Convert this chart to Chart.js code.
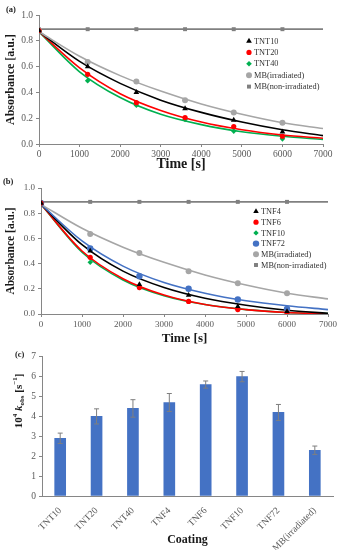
<!DOCTYPE html>
<html>
<head>
<meta charset="utf-8">
<script src="https://cdn.jsdelivr.net/npm/chart.js@4/dist/chart.umd.min.js"></script>
<style>
body { margin: 0; background: #fff; width: 342px; height: 550px; position: relative; overflow: hidden; font-family: 'Liberation Serif', serif; }
canvas { position: absolute; left: 0; }
.tag { position: absolute; font-weight: bold; font-size: 8.5px; color: #222; }
</style>
</head>
<body>
<canvas id="chartA" width="342" height="175" style="top:0"></canvas>
<canvas id="chartB" width="342" height="170" style="top:178px"></canvas>
<canvas id="chartC" width="342" height="202" style="top:348px"></canvas>
<div class="tag" style="left:6px;top:4px">(a)</div>
<div class="tag" style="left:3px;top:176px">(b)</div>
<div class="tag" style="left:15px;top:349px">(c)</div>
<script>
// sampling times (s)
const times = [0, 1200, 2400, 3600, 4800, 6000];
const fitTimes = [0, 1000, 2000, 3000, 4000, 5000, 6000, 7000];
const lineEnds = [0, 7000];

// panel (a) measured absorbance
const tnt10 = [0.88, 0.60, 0.40, 0.275, 0.185, 0.095];
const tnt20 = [0.88, 0.54, 0.32, 0.205, 0.135, 0.06];
const tnt40 = [0.88, 0.49, 0.30, 0.19, 0.10, 0.04];
const mbIrr = [0.88, 0.635, 0.485, 0.34, 0.245, 0.165];
const mbNon = [0.89, 0.89, 0.89, 0.89, 0.89, 0.89];
const mbNonLine = [0.89, 0.89];

// panel (a) fitted curves
const fitTnt10 = [0.87, 0.64, 0.47, 0.34, 0.245, 0.17, 0.11, 0.065];
const fitTnt20 = [0.87, 0.59, 0.39, 0.26, 0.17, 0.11, 0.07, 0.045];
const fitTnt40 = [0.87, 0.56, 0.36, 0.23, 0.15, 0.095, 0.06, 0.035];
const fitMbIrr = [0.87, 0.68, 0.53, 0.41, 0.31, 0.23, 0.165, 0.12];

// panel (b) measured absorbance
const tnf4 = [0.88, 0.50, 0.235, 0.15, 0.06, 0.02];
const tnf6 = [0.88, 0.45, 0.21, 0.10, 0.035, 0.01];
const tnf10 = [0.88, 0.41, 0.21, 0.10, 0.035, 0.01];
const tnf72 = [0.88, 0.52, 0.30, 0.20, 0.115, 0.04];

// panel (b) fitted curves
const fitTnf4 = [0.87, 0.55, 0.34, 0.21, 0.125, 0.07, 0.03, 0.005];
const fitTnf6 = [0.87, 0.50, 0.28, 0.15, 0.075, 0.035, 0.012, 0.0];
const fitTnf10 = [0.87, 0.49, 0.27, 0.145, 0.075, 0.035, 0.012, 0.003];
const fitTnf72 = [0.87, 0.58, 0.38, 0.25, 0.165, 0.105, 0.065, 0.035];

// panel (c) rate constants
const coatings = ['TNT10', 'TNT20', 'TNT40', 'TNF4', 'TNF6', 'TNF10', 'TNF72', 'MB(irradiated)'];
const kObs = [2.9, 4.0, 4.4, 4.7, 5.6, 6.0, 4.2, 2.3];
const kErr = [0.26, 0.38, 0.44, 0.45, 0.18, 0.26, 0.4, 0.21];

Chart.defaults.font.family = "'Liberation Serif', serif";
Chart.defaults.color = '#595959';

const pts = (xs, ys) => xs.map((x, i) => ({ x: x, y: ys[i] }));

function fit(xs, ys, color, w) {
    return { data: pts(xs, ys), showLine: true, pointRadius: 0, borderColor: color,
             borderWidth: w || 1.6, cubicInterpolationMode: 'monotone', order: 2 };
}
function marks(ys, label, color, style, r) {
    return { data: pts(times, ys), legendText: label, pointStyle: style, pointRadius: r,
             backgroundColor: color, borderColor: color, borderWidth: 0, order: 1 };
}

// legend drawn inside the plot
const inLegend = {
    id: 'inLegend',
    afterDraw(chart, args, opts) {
        const ctx = chart.ctx;
        let y = opts.y;
        ctx.save();
        ctx.font = opts.size + "px 'Liberation Serif', serif";
        ctx.textBaseline = 'middle';
        chart.data.datasets.forEach(ds => {
            if (!ds.legendText) return;
            ctx.fillStyle = ds.backgroundColor;
            ctx.strokeStyle = ds.borderColor;
            Chart.helpers.drawPoint(ctx, { pointStyle: ds.pointStyle, radius: ds.pointRadius, borderWidth: 0, rotation: 0 }, opts.x, y);
            ctx.fillStyle = '#333';
            ctx.fillText(ds.legendText, opts.x + 5, y + 0.5);
            y += opts.gap;
        });
        ctx.restore();
    }
};

function lineScales(xH, yW, fs, xt, yt) {
    const axisGrid = { display: true, drawOnChartArea: false, drawTicks: true, tickLength: 3, color: '#868686' };
    return {
        x: { type: 'linear', min: 0, max: 7000,
             ticks: { stepSize: 1000, font: { size: fs }, padding: 2, maxRotation: 0, callback: v => String(v) },
             grid: axisGrid, border: { color: '#868686', width: 1 },
             title: { display: true, text: 'Time [s]', color: '#1a1a1a', font: { size: xt, weight: 'bold' }, padding: { top: 0, bottom: 2 } },
             afterFit: s => { s.height = xH; } },
        y: { min: 0, max: 1,
             ticks: { stepSize: 0.2, font: { size: fs }, padding: 3, callback: v => v.toFixed(1) },
             grid: axisGrid, border: { color: '#868686', width: 1 },
             title: { display: true, text: 'Absorbance [a.u.]', color: '#1a1a1a', font: { size: yt, weight: 'bold' }, padding: { top: 4, bottom: 0 } },
             afterFit: s => { s.width = yW; } }
    };
}

new Chart(document.getElementById('chartA'), {
    type: 'scatter',
    data: { datasets: [
        fit(fitTimes, fitMbIrr, '#a6a6a6'),
        fit(fitTimes, fitTnt10, '#000000'),
        fit(fitTimes, fitTnt20, '#ff0000'),
        fit(fitTimes, fitTnt40, '#00b050'),
        fit(lineEnds, mbNonLine, '#808080', 1.8),
        marks(tnt10, 'TNT10', '#000000', 'triangle', 3.3),
        marks(tnt20, 'TNT20', '#ff0000', 'circle', 2.6),
        marks(tnt40, 'TNT40', '#00b050', 'rectRot', 2.8),
        marks(mbIrr, 'MB(irradiated)', '#a6a6a6', 'circle', 3),
        marks(mbNon, 'MB(non-irradiated)', '#808080', 'rect', 2.8)
    ] },
    options: {
        responsive: false, animation: false, devicePixelRatio: 1,
        layout: { padding: { top: 15, right: 19, left: 0, bottom: 0 } },
        plugins: { legend: { display: false }, tooltip: { enabled: false },
                   inLegend: { x: 249, y: 41, gap: 11.4, size: 8.3 } },
        scales: lineScales(31, 39, 9.5, 14, 12)
    },
    plugins: [inLegend]
});

new Chart(document.getElementById('chartB'), {
    type: 'scatter',
    data: { datasets: [
        fit(fitTimes, fitMbIrr, '#a6a6a6'),
        fit(fitTimes, fitTnf72, '#4472c4'),
        fit(fitTimes, fitTnf4, '#000000'),
        fit(fitTimes, fitTnf6, '#ff0000'),
        fit(fitTimes, fitTnf10, '#00b050'),
        fit(lineEnds, mbNonLine, '#808080', 1.8),
        marks(tnf4, 'TNF4', '#000000', 'triangle', 3.2),
        marks(tnf6, 'TNF6', '#ff0000', 'circle', 2.6),
        marks(tnf10, 'TNF10', '#00b050', 'rectRot', 2.7),
        marks(tnf72, 'TNF72', '#4472c4', 'circle', 3.2),
        marks(mbIrr, 'MB(irradiated)', '#a6a6a6', 'circle', 3),
        marks(mbNon, 'MB(non-irradiated)', '#808080', 'rect', 2.8)
    ] },
    options: {
        responsive: false, animation: false, devicePixelRatio: 1,
        layout: { padding: { top: 10, right: 14, left: 0, bottom: 0 } },
        plugins: { legend: { display: false }, tooltip: { enabled: false },
                   inLegend: { x: 256, y: 33.5, gap: 10.7, size: 8.3 } },
        scales: lineScales(34, 41, 9, 13, 11.5)
    },
    plugins: [inLegend]
});

// error bars on the rate-constant bars
const errorBars = {
    id: 'errorBars',
    afterDatasetsDraw(chart) {
        const ctx = chart.ctx, ys = chart.scales.y;
        const meta = chart.getDatasetMeta(0);
        ctx.save();
        ctx.strokeStyle = '#7f7f7f';
        ctx.lineWidth = 1;
        meta.data.forEach((bar, i) => {
            const top = ys.getPixelForValue(kObs[i] + kErr[i]);
            const bot = ys.getPixelForValue(kObs[i] - kErr[i]);
            ctx.beginPath();
            ctx.moveTo(bar.x, top); ctx.lineTo(bar.x, bot);
            ctx.moveTo(bar.x - 2.5, top); ctx.lineTo(bar.x + 2.5, top);
            ctx.moveTo(bar.x - 2.5, bot); ctx.lineTo(bar.x + 2.5, bot);
            ctx.stroke();
        });
        ctx.restore();
    }
};

// y title with superscript / subscript
const kTitle = {
    id: 'kTitle',
    afterDraw(chart) {
        const ctx = chart.ctx;
        const parts = [
            { t: '10', s: 11, dy: 0, st: 'bold' },
            { t: '4', s: 7, dy: -4, st: 'bold' },
            { t: ' k', s: 11, dy: 0, st: 'italic bold' },
            { t: 'obs', s: 7, dy: 3, st: 'bold' },
            { t: ' [s', s: 11, dy: 0, st: 'bold' },
            { t: '\u22121', s: 7, dy: -4, st: 'bold' },
            { t: ']', s: 11, dy: 0, st: 'bold' }
        ];
        ctx.save();
        let total = 0;
        parts.forEach(p => { ctx.font = p.st + ' ' + p.s + "px 'Liberation Serif', serif"; p.w = ctx.measureText(p.t).width; total += p.w; });
        ctx.translate(16, 53);
        ctx.rotate(-Math.PI / 2);
        ctx.fillStyle = '#1a1a1a';
        ctx.textBaseline = 'middle';
        let x = -total / 2;
        parts.forEach(p => {
            ctx.font = p.st + ' ' + p.s + "px 'Liberation Serif', serif";
            ctx.fillText(p.t, x, p.dy + 3);
            x += p.w;
        });
        ctx.restore();
    }
};

new Chart(document.getElementById('chartC'), {
    type: 'bar',
    data: { labels: coatings, datasets: [{ data: kObs, backgroundColor: '#4472c4', barThickness: 11 }] },
    options: {
        responsive: false, animation: false, devicePixelRatio: 1,
        layout: { padding: { top: 7, right: 9, left: 0, bottom: 0 } },
        plugins: { legend: { display: false }, tooltip: { enabled: false } },
        scales: {
            x: { ticks: { minRotation: 45, maxRotation: 45, font: { size: 9.5 }, padding: 1 },
                 grid: { display: false }, border: { color: '#868686', width: 1 },
                 title: { display: true, text: 'Coating', color: '#1a1a1a', font: { size: 12, weight: 'bold' }, padding: { top: 0, bottom: 3 } },
                 afterFit: s => { s.height = 54; } },
            y: { min: 0, max: 7,
                 ticks: { stepSize: 1, font: { size: 9.5 }, padding: 3 },
                 grid: { display: true, drawOnChartArea: false, drawTicks: true, tickLength: 3, color: '#868686' },
                 border: { color: '#868686', width: 1 },
                 afterFit: s => { s.width = 42; } }
        }
    },
    plugins: [errorBars, kTitle]
});
</script>
</body>
</html>
